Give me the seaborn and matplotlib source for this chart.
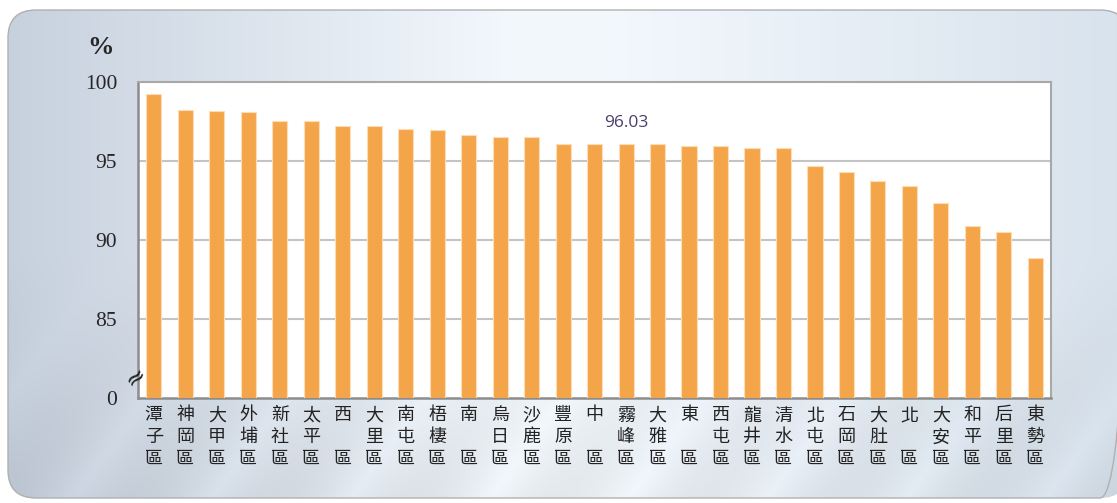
import numpy as np
import pandas as pd
import matplotlib.pyplot as plt
from matplotlib.patches import FancyBboxPatch
import seaborn as sns

# district names (Taichung) and rates
districts = ['潭子區', '神岡區', '大甲區', '外埔區', '新社區', '太平區', '西區', '大里區',
             '南屯區', '梧棲區', '南區', '烏日區', '沙鹿區', '豐原區', '中區', '霧峰區',
             '大雅區', '東區', '西屯區', '龍井區', '清水區', '北屯區', '石岡區', '大肚區',
             '北區', '大安區', '和平區', '后里區', '東勢區']
rates = [99.20, 98.23, 98.14, 98.06, 97.51, 97.51, 97.17, 97.17, 97.00, 96.94,
         96.60, 96.51, 96.51, 96.09, 96.09, 96.03, 96.03, 95.94, 95.94, 95.78,
         95.78, 94.70, 94.32, 93.75, 93.41, 92.35, 90.89, 90.49, 88.84]
ytick_vals = [80, 85, 90, 95, 100]
ytick_labels = ['0', '85', '90', '95', '100']
highlight_label = '96.03'
highlight_idx = 15

df = pd.DataFrame({'district': districts, 'rate': rates})


def stacked(name):
    # vertical label: first char / second char (or blank) / 區
    if len(name) == 2:
        return name[0] + '\n\u3000\n' + name[1]
    return '\n'.join(name)


sns.set_style('white')
plt.rcParams['font.family'] = ['Noto Sans CJK TC', 'DejaVu Sans']

fig = plt.figure(figsize=(11.17, 5.03), dpi=100)
fig.patch.set_facecolor('white')

# background card with soft gradient
bg = fig.add_axes([0, 0, 1, 1], zorder=-5)
bg.set_xlim(0, 1117)
bg.set_ylim(503, 0)
bg.axis('off')
gx = np.linspace(0, 1, 400)
gy = np.linspace(0, 1, 200)
X, Y = np.meshgrid(gx, gy)
left = np.array([0.78, 0.82, 0.87])
mid = np.array([0.95, 0.97, 0.99])
right = np.array([0.85, 0.89, 0.93])
w = np.clip(X / 0.45, 0, 1)[..., None]
w2 = np.clip((X - 0.55) / 0.45, 0, 1)[..., None]
img = left * (1 - w) + mid * w
img = img * (1 - w2) + right * w2
img = img * (1 - 0.06 * np.clip((Y - 0.5) * 2, 0, 1)[..., None] * np.abs(np.sin(X * 25 + Y * 8))[..., None])
im = bg.imshow(img, extent=[8, 1117, 500, 10], aspect='auto', zorder=0)
card = FancyBboxPatch((8, 10), 1120, 488, boxstyle='round,pad=0,rounding_size=28',
                      facecolor='none', edgecolor='#b0b0b0', linewidth=1.0,
                      transform=bg.transData, zorder=1)
bg.add_patch(card)
im.set_clip_path(card)

ax = fig.add_axes([0.1236, 0.2087, 0.941 - 0.1236, 0.8376 - 0.2087])
ax.set_facecolor('white')

sns.barplot(data=df, x='district', y='rate', color='#F4A54A', width=0.48,
            edgecolor='#FDDDB5', linewidth=0.8, saturation=1, ax=ax, zorder=3)

ax.set_ylim(80, 100)
ax.set_xlim(-0.5, len(districts) - 0.5)
ax.set_yticks(ytick_vals)
ax.set_yticklabels(ytick_labels, family=['Liberation Serif'], fontsize=15.5)
ax.set_xticks(range(len(districts)))
ax.set_xticklabels([stacked(d) for d in districts], fontsize=13,
                   linespacing=1.28, family=['Noto Sans CJK TC', 'DejaVu Sans'],
                   va='top', color='#222222')
ax.set_xticks(np.arange(-0.5, len(districts), 1), minor=True)
ax.tick_params(axis='x', which='major', length=0, pad=6)
ax.tick_params(axis='x', which='minor', length=5, width=1.5, color='#8c8c8c', direction='out')
ax.tick_params(axis='y', length=6, width=1.5, color='#8c8c8c', direction='out', pad=9)

for y in [85, 90, 95]:
    ax.axhline(y, color='#c4c4c4', linewidth=1.5, zorder=1)

for side in ['left', 'bottom']:
    ax.spines[side].set_color('#8c8c8c')
    ax.spines[side].set_linewidth(1.8)
for side in ['top', 'right']:
    ax.spines[side].set_color('#a8a8a8')
    ax.spines[side].set_linewidth(1.5)

ax.set_xlabel('')
ax.set_ylabel('')

# axis break mark
ax.text(-0.55, 81.3, '≈', ha='center', va='center', fontsize=18, rotation=40,
        family=['DejaVu Sans'], color='#222222', zorder=6, clip_on=False)

# value label above the highlighted bar
ax.text(highlight_idx, rates[highlight_idx] + 1.35, highlight_label, ha='center', va='center',
        fontsize=12.5, color='#4b3d6e', family=['Open Sans', 'DejaVu Sans'], zorder=5)

fig.text(101 / 1117, 1 - 47 / 503, '%', ha='center', va='center', fontsize=19,
         fontweight='bold', family=['Liberation Serif'])

plt.savefig('out.png', dpi=100)
